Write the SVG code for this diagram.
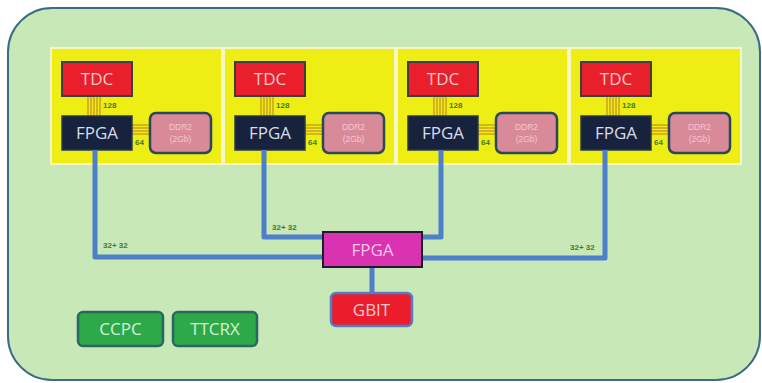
<svg xmlns="http://www.w3.org/2000/svg" width="762" height="383" viewBox="0 0 762 383">
  <style>
    .board { fill: #c9e8b8; stroke: #3b6b86; stroke-width: 2; }
    .panel { fill: #eeed14; stroke: #f6f7c8; stroke-width: 2; }
    .tdc { fill: #e91f2b; stroke: #3a3f44; stroke-width: 2; }
    .fpga { fill: #17223d; stroke: #2c3a48; stroke-width: 1.5; }
    .ddr { fill: #d98a99; stroke: #2a4858; stroke-width: 2.5; }
    .bus { stroke: #c99a22; stroke-width: 1.4; fill: none; }
    .link { stroke: #4d7fcb; stroke-width: 5; fill: none; stroke-linejoin: round; }
    .big { font-family: "Open Sans", "Liberation Sans", sans-serif; font-size: 17px; text-anchor: middle; }
    .small { font-family: "Liberation Sans", sans-serif; font-size: 8px; font-weight: bold; fill: #3e7a2e; }
    .ddrtxt { font-family: "Liberation Sans", sans-serif; font-size: 8.5px; fill: #f3c9d1; text-anchor: middle; }
    .ctrl { fill: #2ea94a; stroke: #2a6666; stroke-width: 2.5; }
  </style>
  <defs>
    <!-- one readout unit: TDC, FPGA, DDR2 and their buses -->
    <g id="unit">
      <rect class="panel" x="0" y="0" width="171" height="116"/>
      <g class="bus">
        <line x1="37" y1="48" x2="37" y2="68"/>
        <line x1="40" y1="48" x2="40" y2="68"/>
        <line x1="43" y1="48" x2="43" y2="68"/>
        <line x1="46" y1="48" x2="46" y2="68"/>
        <line x1="49" y1="48" x2="49" y2="68"/>
        <line x1="80" y1="77" x2="99" y2="77"/>
        <line x1="80" y1="80" x2="99" y2="80"/>
        <line x1="80" y1="83" x2="99" y2="83"/>
        <line x1="80" y1="86" x2="99" y2="86"/>
      </g>
      <rect class="tdc" x="11" y="14" width="70" height="34"/>
      <text class="big" x="46" y="37" fill="#f6c7c9">TDC</text>
      <rect class="fpga" x="11" y="68" width="70" height="34"/>
      <text class="big" x="46" y="91" fill="#d9dbe8">FPGA</text>
      <rect class="ddr" x="99" y="65" width="61" height="40" rx="6"/>
      <text class="ddrtxt" x="129.5" y="82">DDR2</text>
      <text class="ddrtxt" x="129.5" y="94">(2Gb)</text>
      <text class="small" x="52" y="60">128</text>
      <text class="small" x="84" y="97">64</text>
    </g>
  </defs>

  <rect x="0" y="0" width="762" height="383" fill="#ffffff"/>
  <rect class="board" x="8" y="8" width="752" height="372" rx="44"/>

  <g id="unit1"><use href="#unit" x="51" y="48"/></g>
  <g id="unit2"><use href="#unit" x="224" y="48"/></g>
  <g id="unit3"><use href="#unit" x="397" y="48"/></g>
  <g id="unit4"><use href="#unit" x="570" y="48"/></g>

  <g id="connectors">
    <polyline class="link" points="95,150 95,257 323,257"/>
    <polyline class="link" points="264,150 264,237 323,237"/>
    <polyline class="link" points="441,150 441,237 422,237"/>
    <polyline class="link" points="605,150 605,258 422,258"/>
    <line class="link" x1="372" y1="267" x2="372" y2="293" stroke-width="4"/>
    <text class="small" x="103" y="248">32+ 32</text>
    <text class="small" x="272" y="230">32+ 32</text>
    <text class="small" x="570" y="250">32+ 32</text>
  </g>

  <g id="hub-fpga">
    <rect x="323" y="232" width="99" height="35" fill="#d933b1" stroke="#1c1c2c" stroke-width="2"/>
    <text class="big" x="372.5" y="256" fill="#f4c6e6" font-size="16">FPGA</text>
  </g>

  <g id="gbit">
    <rect x="331" y="293" width="81" height="33" rx="5" fill="#eb1c2b" stroke="#4d7fcb" stroke-width="2.5"/>
    <text class="big" x="371.5" y="316" fill="#f7c9cb">GBIT</text>
  </g>

  <g id="ccpc">
    <rect class="ctrl" x="78" y="312" width="85" height="34" rx="5"/>
    <text class="big" x="120.5" y="335" fill="#d4f2cf">CCPC</text>
  </g>

  <g id="ttcrx">
    <rect class="ctrl" x="173" y="312" width="84" height="34" rx="5"/>
    <text class="big" x="215" y="335" fill="#d4f2cf">TTCRX</text>
  </g>
</svg>
